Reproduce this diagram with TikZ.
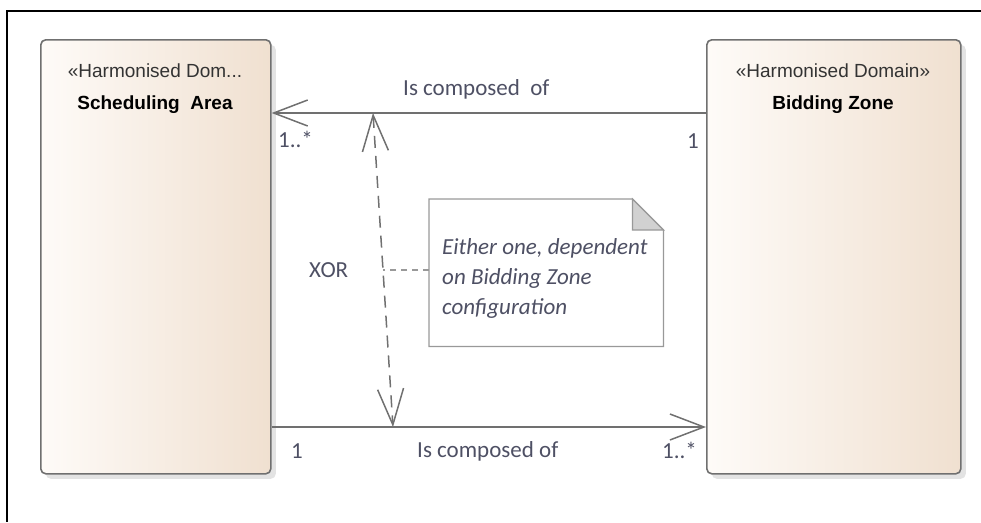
\documentclass[tikz,border=0pt]{standalone}
\usepackage{fontspec}
\setmainfont{Carlito}
\newfontfamily\umlfont{Liberation Sans}
\usetikzlibrary{arrows.meta,shadows,calc}
\definecolor{lblc}{RGB}{78,80,100}
\definecolor{edgec}{RGB}{112,112,112}
\definecolor{fillL}{RGB}{254,251,248}
\definecolor{fillR}{RGB}{240,224,208}

\begin{document}
\begin{tikzpicture}[x=1pt, y=-1pt,
    cls/.style = {draw=edgec, line width=1.6pt, rounded corners=5pt, left color=fillL, right color=fillR, anchor=north west, minimum height=434pt, inner sep=0pt, drop shadow={shadow xshift=5pt, shadow yshift=-5pt, fill=black!22}},
    stereo/.style = {anchor=base, inner sep=0pt, text=black!80, font=\umlfont\fontsize{19}{22}\selectfont},
    cname/.style = {anchor=base, inner sep=0pt, font=\umlfont\bfseries\fontsize{19}{22}\selectfont},
    lbl/.style = {anchor=base west, inner sep=0pt, text=lblc, font=\fontsize{23}{28}\selectfont},
    assoc/.style = {draw=edgec, line width=1.5pt, -{Straight Barb[length=34pt, width=26pt, line width=1.5pt]}},
    xordash/.style = {draw=edgec, line width=1.5pt, dash pattern=on 12pt off 8pt, {Straight Barb[length=36pt, width=26pt, line width=1.5pt]}-{Straight Barb[length=36pt, width=26pt, line width=1.5pt]}},
    notebox/.style = {anchor=north west, minimum width=234pt, minimum height=147pt, inner sep=0pt},
    notetext/.style = {anchor=north west, inner sep=0pt, align=left, text=lblc, font=\itshape\fontsize{23}{30}\selectfont}]
    \useasboundingbox (0,0) rectangle (981,522);

    % frame
    \draw[line width=1.5pt] (981,11) -- (7,11) -- (7,522);

    % classes
    \node[cls, minimum width=230pt] (sa) at (40,39) {};
    \node[cls, minimum width=254pt] (bz) at (706,39) {};
    \node[stereo] (sa1) at (155,77) {«Harmonised Dom...};
    \node[cname] (sa2) at (155,109) {Scheduling\ \ Area};
    \node[stereo] (bz1) at (833,77) {«Harmonised Domain»};
    \node[cname] (bz2) at (833,109) {Bidding Zone};

    % associations
    \coordinate (ytop) at (0,113);
    \coordinate (ybot) at (0,427);
    \draw[assoc] (bz.west |- ytop) -- (sa.east |- ytop);
    \draw[assoc] (sa.east |- ybot) -- (bz.west |- ybot);
    \node[lbl] (c1) at (403,95) {Is composed\ \ of};
    \node[lbl] (m1) at (278,147) {1..*};
    \node[lbl] (m2) at (687,148) {1};
    \node[lbl] (c2) at (417,457) {Is composed of};
    \node[lbl] (m3) at (291,458) {1};
    \node[lbl] (m4) at (662,458) {1..*};

    % xor constraint
    \coordinate (x1) at (373,113);
    \coordinate (x2) at (393,427);
    \coordinate (xm) at ($(x1)!0.5!(x2)$);
    \draw[xordash] (x1) -- (x2);
    \node[lbl] (xor) at (309,277) {XOR};

    % note
    \node[notebox] (note) at (429,199) {};
    \draw[draw=black!40, line width=1.2pt, fill=white] (note.north west) -- ([xshift=-31pt]note.north east) -- ([yshift=-31pt]note.north east) -- (note.south east) -- (note.south west) -- cycle;
    \filldraw[draw=black!40, line width=1.2pt, fill=black!18] ([xshift=-31pt]note.north east) -- ([xshift=-31pt, yshift=-31pt]note.north east) -- ([yshift=-31pt]note.north east) -- cycle;
    \node[notetext] (nt) at (442,238) {Either one, dependent\\on Bidding Zone\\configuration};
    \draw[draw=black!40, line width=1.2pt, dash pattern=on 6pt off 5pt] (note.west |- xm) -- (xm);
\end{tikzpicture}
\end{document}
